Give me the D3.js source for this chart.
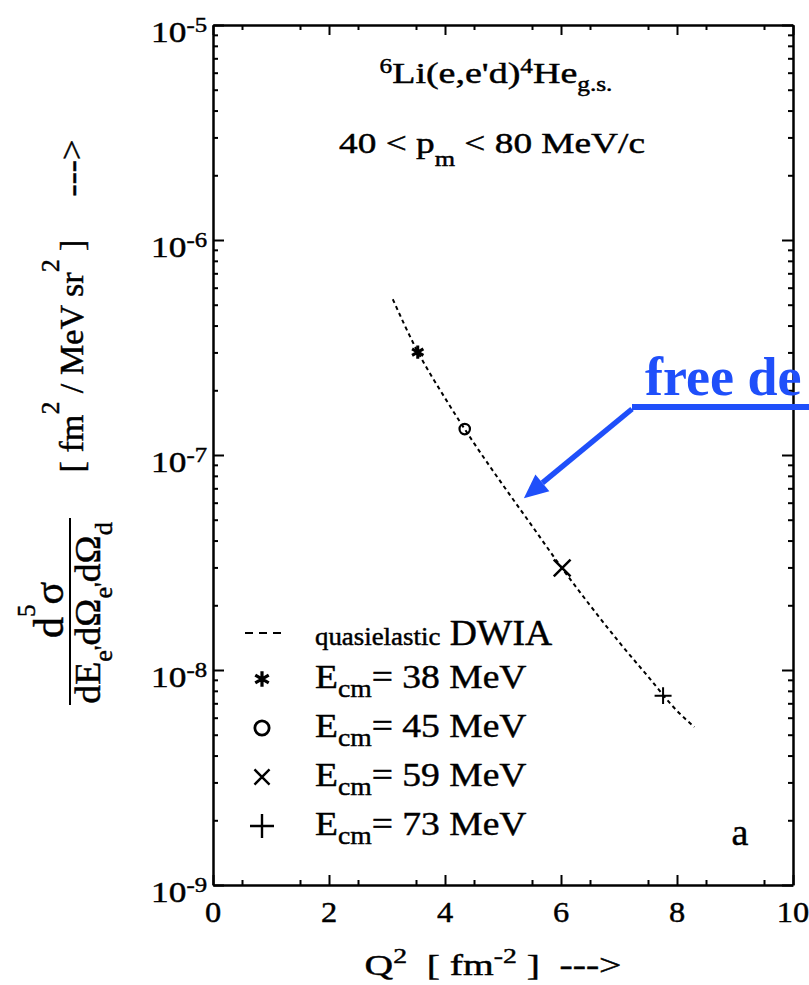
<!DOCTYPE html>
<html>
<head>
<meta charset="utf-8">
<script src="https://cdn.jsdelivr.net/npm/d3@7"></script>
<style>
  body { margin: 0; background: #fff; }
  text { white-space: pre; }
</style>
</head>
<body>
<script>
// ====== Data ======
const xTicks = [0, 2, 4, 6, 8, 10];
const yExponents = [-5, -6, -7, -8, -9];

// quasielastic DWIA curve
const curveQ2 = [3.1, 3.5, 4.0, 4.5, 5.0, 5.5, 6.0, 6.5, 7.0, 7.5, 8.0, 8.3];
const curveSigma = [5.3e-7, 3.13e-7, 1.84e-7, 1.135e-7, 7.24e-8, 4.68e-8, 3.02e-8, 2.0e-8, 1.35e-8, 9.33e-9, 6.46e-9, 5.43e-9];

// measured points, one per E_cm
const pointQ2 = [3.53, 4.34, 6.02, 7.76];
const pointSigma = [3.01e-7, 1.32e-7, 2.98e-8, 7.6e-9];
const energies = [38, 45, 59, 73];
const symbolTypes = [d3.symbolAsterisk, d3.symbolCircle, d3.symbolTimes, d3.symbolPlus];

const BLUE = "#1f4ffa";
const FONT = "Liberation Serif";

// ====== Setup ======
const width = 809, height = 985;
const svg = d3.select("body").append("svg")
    .attr("width", width)
    .attr("height", height);

const x = d3.scaleLinear().domain([0, 10]).range([213, 793]);
const y = d3.scaleLog().domain([1e-9, 1e-5]).range([885, 25]);

// text helper: runs = [text, fontSize, baselineShift]
function label(x0, y0, o, runs) {
  const g = svg.append("g")
      .attr("transform", `translate(${x0},${y0})` + (o.rotate ? ` rotate(${o.rotate})` : ""));
  const fill = o.fill || "#000";
  const t = g.append("text")
      .attr("font-family", FONT)
      .attr("text-anchor", o.anchor || "start")
      .attr("font-size", o.size)
      .attr("font-weight", o.weight || "normal")
      .attr("fill", fill)
      .attr("stroke", o.weight ? "none" : fill)
      .attr("stroke-width", 0.45);
  let prev = 0;
  runs.forEach(([s, size, shift]) => {
    shift = shift || 0;
    t.append("tspan")
        .attr("font-size", size || null)
        .attr("dy", shift - prev)
        .text(s);
    prev = shift;
  });
  let sx = o.sx || 1;
  if (o.width) sx = o.width / t.node().getBBox().width;
  if (sx !== 1) t.attr("transform", `scale(${sx},1)`);
  return t;
}

// ====== Axes / frame ======
const minorY = [];
for (let e = -9; e < -5; e++) for (let k = 2; k <= 9; k++) minorY.push(k * Math.pow(10, e));
const minorX = d3.range(0.5, 10, 1);

const majorYv = yExponents.map(e => Math.pow(10, e));

function drawAxis(axis, tx, ty, major) {
  const g = svg.append("g")
      .attr("transform", `translate(${tx},${ty})`)
      .call(axis.tickFormat("").tickSizeOuter(0));
  g.select(".domain").attr("stroke-width", major ? 2.5 : 0).attr("stroke", major ? "#000" : "none");
  g.selectAll(".tick line").attr("stroke-width", 2);
  return g;
}

drawAxis(d3.axisLeft(y).tickValues(majorYv).tickSize(-11), x(0), 0, true);
drawAxis(d3.axisLeft(y).tickValues(minorY).tickSize(-5), x(0), 0, false);
drawAxis(d3.axisRight(y).tickValues(majorYv).tickSize(-11), x(10), 0, true);
drawAxis(d3.axisRight(y).tickValues(minorY).tickSize(-5), x(10), 0, false);
drawAxis(d3.axisBottom(x).tickValues(xTicks).tickSize(-10), 0, y(1e-9), true);
drawAxis(d3.axisBottom(x).tickValues(minorX).tickSize(-5), 0, y(1e-9), false);
drawAxis(d3.axisTop(x).tickValues(xTicks).tickSize(-10), 0, y(1e-5), true);
drawAxis(d3.axisTop(x).tickValues(minorX).tickSize(-5), 0, y(1e-5), false);

// tick labels
yExponents.forEach(e => {
  label(207, y(Math.pow(10, e)) + 17, {anchor: "end", size: 30, width: 56},
        [["10"], [String(e), 21, -10]]);
});
xTicks.forEach(v => {
  label(x(v), 922, {anchor: "middle", size: 30, sx: 1.08}, [[String(v)]]);
});

// axis titles
label(493, 975, {anchor: "middle", size: 30, width: 257},
      [["Q"], ["2", 21, -12], ["  [ fm"], ["-2", 21, -12], [" ]  --->", null, 0]]);

label(83, 356, {rotate: -90, anchor: "middle", size: 33, width: 233},
      [["[ fm"], ["2", 25, -24], [" / MeV sr", null, 0], ["2", 25, -24], [" ]", null, 0]]);
label(83, 168, {rotate: -90, anchor: "middle", size: 33, width: 57}, [["--->"]]);
label(63, 610, {rotate: -90, anchor: "middle", size: 42},
      [["d"], ["5", 25, -28], ["σ", null, 0]]);
label(100, 613, {rotate: -90, anchor: "middle", size: 36, width: 182},
      [["dE"], ["e'", 25, 12], ["dΩ", null, 0], ["e'", 25, 12], ["dΩ", null, 0], ["d", 25, 12]]);
svg.append("line")
    .attr("x1", 70).attr("x2", 70).attr("y1", 518).attr("y2", 705)
    .attr("stroke", "#000").attr("stroke-width", 2);

// titles in plot
label(496, 83, {anchor: "middle", size: 30, width: 233},
      [["6", 20, -10], ["Li(e,e'd)", null, 0], ["4", 20, -10], ["He", null, 0], ["g.s.", 20, 8]]);
label(492, 153, {anchor: "middle", size: 30, width: 306},
      [["40 < p"], ["m", 21, 13], [" < 80 MeV/c", null, 0]]);

label(740, 845, {anchor: "middle", size: 38}, [["a"]]);

// ====== Curve & points ======
const line = d3.line()
    .x((d, i) => x(curveQ2[i]))
    .y(d => y(d))
    .curve(d3.curveMonotoneX);

svg.append("path")
    .datum(curveSigma)
    .attr("d", line)
    .attr("fill", "none")
    .attr("stroke", "#000")
    .attr("stroke-width", 2)
    .attr("stroke-dasharray", "4,3.5");

const markSize = [120, 85, 185, 96];
const markWidth = [3, 2.2, 2.5, 2];
svg.append("g")
    .selectAll("path")
    .data(pointQ2)
    .enter().append("path")
        .attr("transform", (d, i) => `translate(${x(d)},${y(pointSigma[i])})`)
        .attr("d", (d, i) => d3.symbol().type(symbolTypes[i]).size(markSize[i])())
        .attr("fill", "none")
        .attr("stroke", "#000")
        .attr("stroke-width", (d, i) => markWidth[i]);

// ====== Legend ======
svg.append("line")
    .attr("x1", 245).attr("x2", 281).attr("y1", 633).attr("y2", 633)
    .attr("stroke", "#000").attr("stroke-width", 2)
    .attr("stroke-dasharray", "8,6");
label(315, 645, {size: 35, width: 238}, [["quasielastic", 25], [" DWIA", null, 0]]);

const legendSize = [170, 160, 150, 190];
energies.forEach((e, i) => {
  const rowY = 688 + i * 49;
  svg.append("path")
      .attr("transform", `translate(262,${rowY - 9})`)
      .attr("d", d3.symbol().type(symbolTypes[i]).size(legendSize[i])())
      .attr("fill", "none")
      .attr("stroke", "#000")
      .attr("stroke-width", i === 0 ? 3.2 : i === 1 ? 2.8 : 2.4);
  label(315, rowY, {size: 34, width: 212},
        [["E"], ["cm", 25, 9], ["= " + e + " MeV", null, 0]]);
});

// ====== Annotation ======
const tip = [x(5.36), y(6.3e-8)];
const start = [632, 409];
const dx = tip[0] - start[0], dy = tip[1] - start[1];
const len = Math.hypot(dx, dy);
const ux = dx / len, uy = dy / len;
const base = [tip[0] - 24 * ux, tip[1] - 24 * uy];
const nx = -uy, ny = ux;

svg.append("line")
    .attr("x1", 632).attr("x2", 815).attr("y1", 407).attr("y2", 407)
    .attr("stroke", BLUE).attr("stroke-width", 6);
svg.append("line")
    .attr("x1", start[0]).attr("y1", start[1])
    .attr("x2", base[0]).attr("y2", base[1])
    .attr("stroke", BLUE).attr("stroke-width", 5.5);
svg.append("polygon")
    .attr("points", [tip, [base[0] + 11 * nx, base[1] + 11 * ny], [base[0] - 11 * nx, base[1] - 11 * ny]].join(" "))
    .attr("fill", BLUE);
label(645, 395, {size: 54, weight: "bold", fill: BLUE}, [["free de"]]);
</script>
</body>
</html>
